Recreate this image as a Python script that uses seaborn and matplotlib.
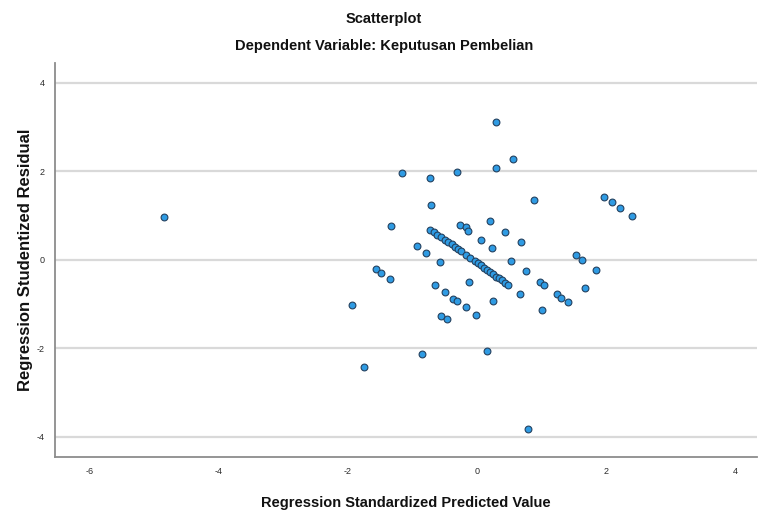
import numpy as np
import pandas as pd
import matplotlib
matplotlib.use("Agg")
import matplotlib.pyplot as plt
import seaborn as sns

# valeurs (predicted standardise, residu studentise)
pred_scattered = [-4.85, 0.29, 0.56, -0.31, 0.29, 0.89, -1.16, -0.73, -0.71, -1.33,
                  -0.26, -0.17, -0.14, 0.21, 0.44, 0.68, 0.07, 0.24, -0.93, -0.79,
                  -0.57, 0.53, 0.76, 0.67, 0.25, -1.56, -1.48, -1.35, -1.93, -0.65,
                  -0.50, -0.37, -0.30, -0.12, -0.17, -0.02, -0.56, -0.47, 1.97, 2.09,
                  2.22, 2.40, 1.53, 1.63, 1.85, 0.98, 1.04, 1.67, 1.24, 1.31,
                  1.41, 1.01, -0.85, 0.16, 0.80, -1.75]
resid_scattered = [0.97, 3.12, 2.28, 1.99, 2.08, 1.36, 1.97, 1.85, 1.25, 0.76,
                   0.79, 0.75, 0.66, 0.88, 0.64, 0.41, 0.44, 0.26, 0.32, 0.16,
                   -0.06, -0.02, -0.25, -0.77, -0.92, -0.21, -0.29, -0.44, -1.03, -0.56,
                   -0.72, -0.89, -0.93, -0.51, -1.07, -1.24, -1.27, -1.34, 1.43, 1.31,
                   1.17, 0.99, 0.11, 0.00, -0.23, -0.50, -0.56, -0.64, -0.78, -0.87,
                   -0.96, -1.13, -2.13, -2.05, -3.83, -2.43]

# la ligne diagonale dense au centre
pred_diag = [-0.73, -0.66, -0.62, -0.56, -0.50, -0.45, -0.39, -0.34, -0.29, -0.24,
             -0.17, -0.10, -0.03, 0.02, 0.06, 0.11, 0.16, 0.20, 0.25, 0.30,
             0.35, 0.39, 0.44, 0.48]
resid_diag = [0.68, 0.62, 0.57, 0.52, 0.45, 0.40, 0.35, 0.29, 0.25, 0.19,
              0.11, 0.04, -0.02, -0.08, -0.12, -0.18, -0.22, -0.27, -0.32, -0.38,
              -0.42, -0.46, -0.52, -0.56]

xticks = [-6, -4, -2, 0, 2, 4]
yticks = [-4, -2, 0, 2, 4]

df = pd.DataFrame({
    "pred": pred_scattered + pred_diag,
    "resid": resid_scattered + resid_diag,
})

sns.set_style("white")
plt.rcParams["font.family"] = ["Liberation Sans", "DejaVu Sans"]

fig = plt.figure(figsize=(7.6, 5.11), dpi=100)
ax = fig.add_axes([0.072, 0.106, 0.924, 0.771])

for y in yticks:
    ax.axhline(y, color="#d9d9d9", lw=1.6, zorder=0)

sns.scatterplot(data=df, x="pred", y="resid", ax=ax, s=24,
                color="#2f9be3", edgecolor="#24415f", linewidth=0.8, zorder=3)

ax.set_xlim(-6.54, 4.34)
ax.set_ylim(-4.45, 4.45)
ax.set_xticks(xticks)
ax.set_yticks(yticks)
ax.set_xticklabels([str(t) for t in xticks])
ax.set_yticklabels([str(t) for t in yticks])
ax.tick_params(length=0, labelsize=6.5, colors="#2b2b2b", pad=7)

for side in ["top", "right"]:
    ax.spines[side].set_visible(False)
for side in ["left", "bottom"]:
    ax.spines[side].set_color("#8c8c8c")
    ax.spines[side].set_linewidth(1.3)

ax.set_xlabel("Regression Standardized Predicted Value", fontsize=10.5,
              fontweight="bold", color="#111111", labelpad=15)
ax.set_ylabel("Regression Studentized Residual", fontsize=12,
              fontweight="bold", color="#111111", labelpad=3)

fig.text(0.505, 0.962, "Scatterplot", ha="center", va="center",
         fontsize=10.5, fontweight="bold", color="#111111")
fig.text(0.505, 0.910, "Dependent Variable: Keputusan Pembelian", ha="center",
         va="center", fontsize=10.5, fontweight="bold", color="#111111")

fig.savefig("out.png", dpi=100, facecolor="white")
